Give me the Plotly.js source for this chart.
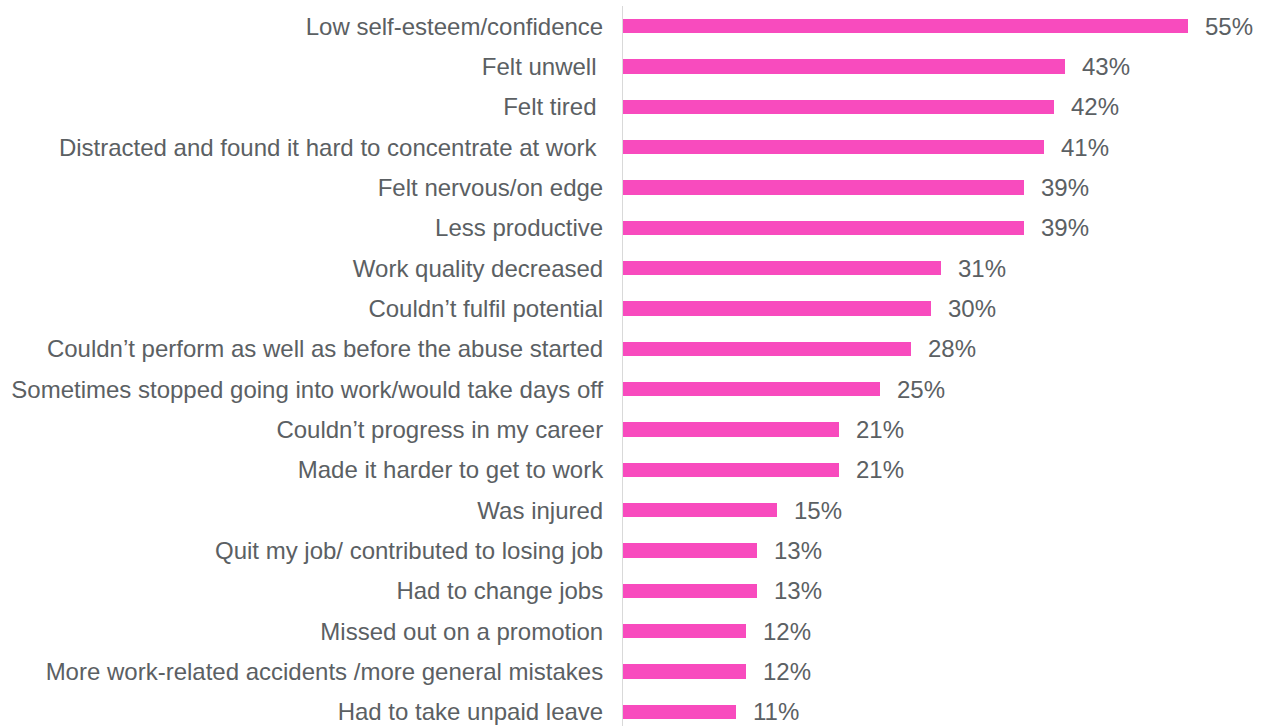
<!DOCTYPE html>
<html>
<head>
<meta charset="utf-8">
<script src="https://cdn.plot.ly/plotly-3.0.1.min.js"></script>
<style>
  html, body { margin: 0; padding: 0; background: #ffffff; }
  #chart { width: 1267px; height: 726px; }
</style>
</head>
<body>
<div id="chart"></div>
<script>
// Effects reported on work, share of respondents
const effects = [
  "Low self-esteem/confidence",
  "Felt unwell\u00a0",
  "Felt tired\u00a0",
  "Distracted and found it hard to concentrate at work\u00a0",
  "Felt nervous/on edge",
  "Less productive",
  "Work quality decreased",
  "Couldn\u2019t fulfil potential",
  "Couldn\u2019t perform as well as before the abuse started",
  "Sometimes stopped going into work/would take days off",
  "Couldn\u2019t progress in my career",
  "Made it harder to get to work",
  "Was injured",
  "Quit my job/ contributed to losing job",
  "Had to change jobs",
  "Missed out on a promotion",
  "More work-related accidents /more general mistakes",
  "Had to take unpaid leave"
];
const shares = [55, 43, 42, 41, 39, 39, 31, 30, 28, 25, 21, 21, 15, 13, 13, 12, 12, 11];

const textColor = "#5B6063";
const barColor = "#F84BBE";
const fontFamily = "Liberation Sans, Arial, sans-serif";

const trace = {
  type: "bar",
  orientation: "h",
  x: shares,
  y: effects,
  width: 0.35,
  marker: { color: barColor, line: { width: 0 } },
  hoverinfo: "skip"
};

const valueLabels = shares.map((v, i) => ({
  x: v,
  y: effects[i],
  xref: "x",
  yref: "y",
  text: v + "%",
  showarrow: false,
  xanchor: "left",
  yanchor: "middle",
  xshift: 15,
  font: { family: fontFamily, size: 24, color: textColor }
}));

const layout = {
  width: 1267,
  height: 726,
  margin: { l: 623, r: 0, t: 6, b: 0, pad: 0 },
  paper_bgcolor: "#ffffff",
  plot_bgcolor: "#ffffff",
  showlegend: false,
  bargap: 0,
  xaxis: {
    range: [0, 62.7],
    showgrid: false,
    zeroline: false,
    showline: false,
    showticklabels: false,
    ticks: ""
  },
  yaxis: {
    type: "category",
    range: [17.35, -0.5],
    showgrid: false,
    zeroline: false,
    showline: true,
    linecolor: "#d9d9d9",
    linewidth: 1,
    ticks: "",
    ticklabelstandoff: 14,
    tickfont: { family: fontFamily, size: 24, color: textColor }
  },
  annotations: valueLabels
};

Plotly.newPlot("chart", [trace], layout, { staticPlot: true, displayModeBar: false });
</script>
</body>
</html>
